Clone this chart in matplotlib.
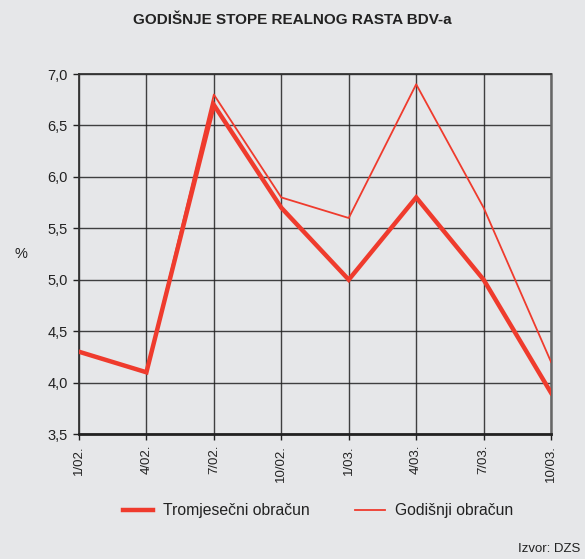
import matplotlib
matplotlib.use('Agg')
import matplotlib.pyplot as plt
import numpy as np

plt.rcParams['font.family'] = ['Liberation Sans', 'DejaVu Sans']

periods = ['1/02.', '4/02.', '7/02.', '10/02.', '1/03.', '4/03.', '7/03.', '10/03.']
tromjesecni = [4.3, 4.1, 6.7, 5.7, 5.0, 5.8, 5.0, 3.9]
godisnji = [4.3, 4.1, 6.8, 5.8, 5.6, 6.9, 5.7, 4.2]
yticks = [3.5, 4.0, 4.5, 5.0, 5.5, 6.0, 6.5, 7.0]

bg = '#e6e7e9'
red = '#ef3b2d'

fig = plt.figure(figsize=(5.85, 5.59), dpi=100, facecolor=bg)
ax = fig.add_axes([0.135, 0.2236, 0.807, 0.644], facecolor=bg)

x = np.arange(len(periods))
ax.plot(x, tromjesecni, color=red, lw=3.2, solid_joinstyle='miter', zorder=3)
ax.plot(x, godisnji, color=red, lw=1.3, zorder=3)

ax.set_xlim(0, len(periods) - 1)
ax.set_ylim(3.5, 7.0)
ax.set_xticks(x)
ax.set_xticklabels(periods, rotation=90, fontsize=9.5, color='#222222')
ax.set_yticks(yticks)
ax.set_yticklabels([f'{v:.1f}'.replace('.', ',') for v in yticks], fontsize=10.5, color='#222222')
ax.tick_params(axis='both', length=4, width=1, color='#222222', pad=4)
ax.grid(True, color='#222222', lw=1.0, alpha=0.85)
ax.set_axisbelow(True)
for side in ['left', 'right', 'top']:
    ax.spines[side].set_color('#333333')
    ax.spines[side].set_linewidth(1.3)
ax.spines['bottom'].set_color('#222222')
ax.spines['bottom'].set_linewidth(2)
ax.spines['right'].set_color('#666666')
ax.spines['right'].set_linewidth(1.8)

fig.text(0.035, 0.545, '%', fontsize=10.5, ha='center', va='center', color='#222222')
fig.text(0.5, 0.965, 'GODIŠNJE STOPE REALNOG RASTA BDV-a', fontsize=11,
         fontweight='bold', ha='center', va='center', color='#222222')

# legend
ly = 1 - 510 / 559
fig.add_artist(plt.Line2D([123 / 585, 153 / 585], [ly, ly], color=red, lw=3.2))
fig.text(163 / 585, ly, 'Tromjesečni obračun', fontsize=11.3, va='center', color='#222222')
fig.add_artist(plt.Line2D([355 / 585, 385 / 585], [ly, ly], color=red, lw=1.3))
fig.text(395 / 585, ly, 'Godišnji obračun', fontsize=11.3, va='center', color='#222222')

fig.text(580 / 585, 1 - 549 / 559, 'Izvor: DZS', fontsize=9.5, ha='right', va='center', color='#222222')

fig.savefig('out.png', dpi=100, facecolor=bg)
